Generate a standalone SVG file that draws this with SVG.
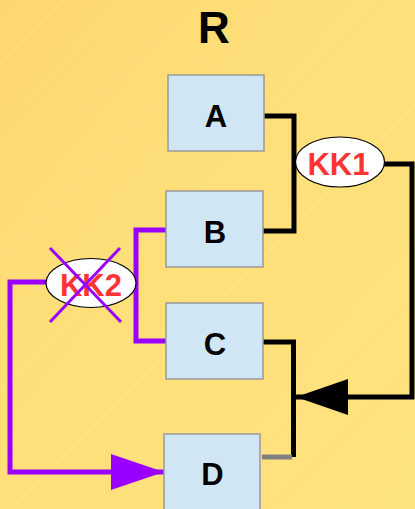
<svg xmlns="http://www.w3.org/2000/svg" width="415" height="509" viewBox="0 0 415 509">
<defs>
<linearGradient id="bg" x1="0" y1="0" x2="1" y2="1">
<stop offset="0" stop-color="#FDD670"/>
<stop offset="0.35" stop-color="#FEDE78"/>
<stop offset="1" stop-color="#FFE37F"/>
</linearGradient>
<pattern id="diag" patternUnits="userSpaceOnUse" width="65" height="65">
<path d="M0 65 L65 0 M-10 10 L10 -10 M55 75 L75 55" stroke="#FFEFA8" stroke-width="1" opacity="0.45"/>
</pattern>
<marker id="arrB" markerUnits="userSpaceOnUse" markerWidth="54" markerHeight="38" refX="52" refY="18" orient="auto">
<path d="M0 0 L52 18 L0 36 Z" fill="#000"/>
</marker>
<marker id="arrP" markerUnits="userSpaceOnUse" markerWidth="54" markerHeight="38" refX="53" refY="18" orient="auto">
<path d="M0 0 L53 18 L0 36 Z" fill="#9900FF"/>
</marker>
</defs>
<style>
.box{fill:#D0E6F4;stroke:#999;stroke-width:1.5}
.lbl{font-family:"Liberation Sans",Arial,sans-serif;font-weight:bold;font-size:31px;text-anchor:middle;fill:#000}
.kk{font-family:"Liberation Sans",Arial,sans-serif;font-weight:bold;font-size:31px;text-anchor:middle;fill:#FF3333}
.ell{fill:#fff;stroke:#000;stroke-width:1.2}
.blk{fill:none;stroke:#000;stroke-width:5}
.pur{fill:none;stroke:#9900FF;stroke-width:5}
</style>
<rect width="415" height="509" fill="url(#bg)"/>
<rect width="415" height="509" fill="url(#diag)"/>
<text x="214" y="43" class="lbl" style="font-size:44px">R</text>
<g id="connectors">
<polyline class="blk" points="264,116 294,116 294,231 263,231"/>
<polyline class="blk" points="384,164 412,164 412,397 296,397" marker-end="url(#arrB)"/>
<polyline class="blk" points="263,342 293.5,342 293.5,457"/>
<line x1="262" y1="457" x2="292" y2="457" stroke="#808080" stroke-width="5"/>
<polyline class="pur" points="166,230 136,230 136,341 166,341"/>
<polyline class="pur" points="46,282 10,282 10,472 164,472" marker-end="url(#arrP)"/>
</g>
<g id="A"><rect class="box" x="168" y="75" width="96" height="76"/><text class="lbl" x="216" y="127">A</text></g>
<g id="B"><rect class="box" x="166" y="191" width="97" height="76"/><text class="lbl" x="215" y="243">B</text></g>
<g id="C"><rect class="box" x="166" y="303" width="97" height="76"/><text class="lbl" x="215" y="354.5">C</text></g>
<g id="D"><rect class="box" x="164" y="434" width="96" height="80"/><text class="lbl" x="212.5" y="485">D</text></g>
<g id="KK1"><ellipse class="ell" cx="340" cy="162" rx="44.5" ry="25"/><text class="kk" x="338.5" y="175">KK1</text></g>
<g id="KK2"><ellipse class="ell" cx="91" cy="283" rx="45" ry="24.5"/><text class="kk" x="91" y="296">KK2</text>
<path d="M50 248 L121 322 M120 248 L50 322" stroke="#9900FF" stroke-width="3" fill="none"/></g>
</svg>
